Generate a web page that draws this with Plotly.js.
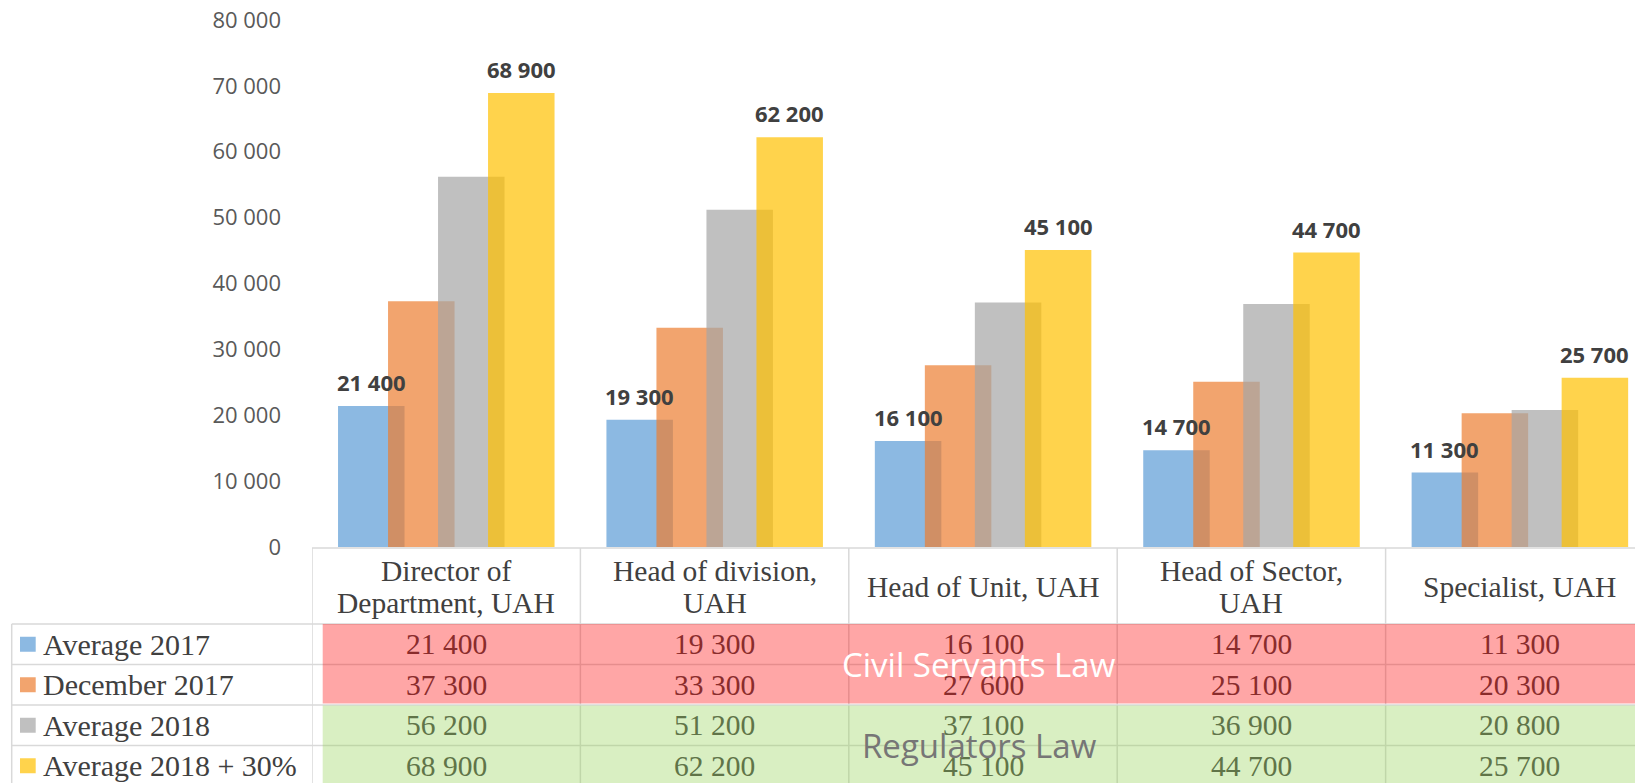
<!DOCTYPE html>
<html><head><meta charset="utf-8">
<script src="https://cdn.plot.ly/plotly-3.0.1.min.js"></script>
<style>html,body{margin:0;padding:0;background:#fff;}#chart{width:1635px;height:783px;}</style>
</head><body><div id="chart"></div>
<script>
// ---- data ----
const categories = ["Director of<br>Department, UAH", "Head of division,<br>UAH", "Head of Unit, UAH", "Head of Sector,<br>UAH", "Specialist, UAH"];
const seriesNames = ["Average 2017", "December 2017", "Average 2018", "Average 2018 + 30%"];
const average2017 = [21400, 19300, 16100, 14700, 11300];
const december2017 = [37300, 33300, 27600, 25100, 20300];
const average2018 = [56200, 51200, 37100, 36900, 20800];
const average2018plus30 = [68900, 62200, 45100, 44700, 25700];
const groupLabels = ["Civil Servants Law", "Regulators Law"];
const yTickValues = [0, 10000, 20000, 30000, 40000, 50000, 60000, 70000, 80000];

// ---- styles / geometry ----
const W = 1635, H = 783;
const M = {l: 312, r: 0, t: 20, b: 236};
const plotW = W - M.l - M.r, plotH = H - M.t - M.b;
const catPx = 268.4;
const xMax = -0.5 + plotW / catPx;
const barColors = ["rgba(91,155,213,0.7)", "rgba(237,125,49,0.7)", "rgba(165,165,165,0.7)", "rgba(255,192,0,0.7)"];
const barWidth = 0.2478, barStep = 0.1863, firstOffset = -0.403;
const sans = "Open Sans, Liberation Sans, sans-serif";
const serif = "Liberation Serif, Times New Roman, serif";
const serifSize = 29.5;

const px2x = px => (px - M.l) / plotW;          // paper x
const py2y = py => (H - M.b - py) / plotH;      // paper y
const fmt = v => String(v).replace(/\B(?=(\d{3})+(?!\d))/g, ' ');

const series = [average2017, december2017, average2018, average2018plus30];
const xIdx = categories.map((_, i) => i);

const traces = series.map((vals, s) => ({
  type: 'bar', x: xIdx, y: vals, name: seriesNames[s],
  width: barWidth, offset: firstOffset + s * barStep,
  marker: {color: barColors[s], line: {width: 0}},
  hoverinfo: 'skip', showlegend: false
}));

const annotations = [];
// data labels for first and last series
[0, 3].forEach(s => {
  series[s].forEach((v, i) => {
    annotations.push({
      xref: 'x', yref: 'y', x: i + firstOffset + s * barStep + barWidth / 2, y: v,
      yshift: 24, yanchor: 'middle', xanchor: 'center', showarrow: false,
      text: fmt(v), font: {family: sans, size: 22, color: '#404040', weight: 'bold'}
    });
  });
});

// table geometry (pixels)
const headerTop = 548, headerCenter = 587, lineGap = 31.7;
const rowTops = [624, 664.5, 705, 745.5];
const rowH = 40.5;
const legendLeft = 11.7;

// header labels
categories.forEach((c, i) => {
  const lines = c.split('<br>');
  lines.forEach((ln, k) => {
    annotations.push({
      xref: 'x', yref: 'paper', x: i, y: py2y(headerCenter + (k - (lines.length - 1) / 2) * lineGap),
      yanchor: 'middle', xanchor: 'center', showarrow: false, text: ln,
      font: {family: serif, size: serifSize, color: '#404040'}
    });
  });
});

// legend names
const rowTextColors = ['rgb(138,44,44)', 'rgb(138,44,44)', 'rgb(96,116,72)', 'rgb(96,116,72)'];
seriesNames.forEach((n, r) => {
  annotations.push({
    xref: 'paper', yref: 'paper', x: px2x(41), y: py2y(rowTops[r] + rowH / 2),
    xanchor: 'left', yanchor: 'middle', showarrow: false, text: n,
    font: {family: serif, size: serifSize + 0.5, color: '#404040'}
  });
  series[r].forEach((v, i) => {
    annotations.push({
      xref: 'x', yref: 'paper', x: i, y: py2y(rowTops[r] + rowH / 2),
      xanchor: 'center', yanchor: 'middle', showarrow: false, text: fmt(v),
      font: {family: serif, size: serifSize, color: rowTextColors[r]}
    });
  });
});

// group labels
annotations.push({
  xref: 'paper', yref: 'paper', x: px2x(979), y: py2y(rowTops[1]),
  xanchor: 'center', yanchor: 'middle', showarrow: false, text: groupLabels[0],
  font: {family: sans, size: 33, color: '#ffffff'}
});
annotations.push({
  xref: 'paper', yref: 'paper', x: px2x(980), y: py2y(rowTops[3]),
  xanchor: 'center', yanchor: 'middle', showarrow: false, text: groupLabels[1],
  font: {family: sans, size: 33, color: 'rgb(118,118,118)'}
});

// shapes: table grid
const gridColor = '#D9D9D9';
const shapes = [];
const hline = (py, x0, x1) => shapes.push({type: 'line', xref: 'paper', yref: 'paper', x0: px2x(x0), x1: px2x(x1), y0: py2y(py), y1: py2y(py), line: {color: gridColor, width: 1.5}});
hline(headerTop, M.l, W + 10);
rowTops.forEach(t => hline(t, legendLeft, W + 10));
shapes.push({type: 'line', xref: 'paper', yref: 'paper', x0: px2x(legendLeft), x1: px2x(legendLeft), y0: py2y(rowTops[0]), y1: py2y(H + 10), line: {color: gridColor, width: 1.5}});
for (let i = 0; i < categories.length; i++) {
  shapes.push({type: 'line', xref: 'x', yref: 'paper', x0: i - 0.5, x1: i - 0.5, y0: py2y(headerTop), y1: py2y(H + 10), line: {color: gridColor, width: 1.5}});
}
// overlays
shapes.push({type: 'rect', xref: 'paper', yref: 'paper', x0: px2x(322.7), x1: px2x(W + 10), y0: py2y(rowTops[0]), y1: py2y(703.5), fillcolor: 'rgba(255,0,0,0.35)', line: {width: 0}, layer: 'above'});
shapes.push({type: 'rect', xref: 'paper', yref: 'paper', x0: px2x(322.7), x1: px2x(W + 10), y0: py2y(705.5), y1: py2y(H + 10), fillcolor: 'rgba(146,208,80,0.35)', line: {width: 0}, layer: 'above'});
// legend keys
seriesNames.forEach((n, r) => {
  const c = rowTops[r] + rowH / 2;
  shapes.push({type: 'rect', xref: 'paper', yref: 'paper', x0: px2x(20), x1: px2x(35.7), y0: py2y(c - 7.5), y1: py2y(c + 7.5), fillcolor: barColors[r], line: {width: 0}});
});

const layout = {
  width: W, height: H, margin: M, paper_bgcolor: '#fff', plot_bgcolor: '#fff',
  barmode: 'overlay', separators: '. ', showlegend: false,
  xaxis: {range: [-0.5, xMax], showticklabels: false, showgrid: false, zeroline: false, showline: false, ticks: '', fixedrange: true},
  yaxis: {range: [0, 80000], tickvals: yTickValues, tickformat: ',d', showgrid: false, zeroline: false, showline: false, ticks: '',
          ticklabelstandoff: 30, tickfont: {family: sans, size: 22, color: '#595959'}, fixedrange: true},
  annotations: annotations, shapes: shapes
};

Plotly.newPlot('chart', traces, layout, {staticPlot: true, displayModeBar: false});
</script></body></html>
